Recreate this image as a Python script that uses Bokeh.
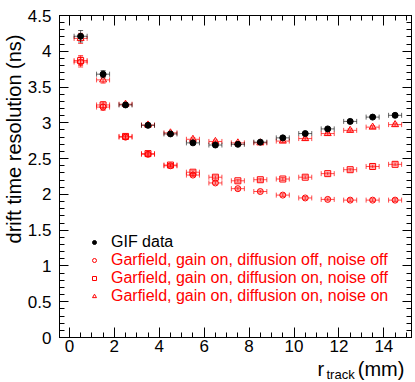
import math
import numpy as np
from bokeh.plotting import figure
from bokeh.models import (Range1d, LinearAxis, SingleIntervalTicker, ColumnDataSource,
                          Legend, LegendItem, Label, Title, CustomJSTickFormatter)
from bokeh.embed import file_html
from bokeh.resources import INLINE

# ---------------- data ----------------
r_track = [0.5, 1.5, 2.5, 3.5, 4.5, 5.5, 6.5, 7.5, 8.5, 9.5, 10.5, 11.5, 12.5, 13.5, 14.5]
r_err = [0.29, 0.29, 0.29, 0.29, 0.29, 0.29, 0.29, 0.29, 0.29, 0.29, 0.29, 0.29, 0.29, 0.29, 0.29]

gif_data = [4.21, 3.68, 3.25, 2.965, 2.845, 2.72, 2.69, 2.70, 2.73, 2.79, 2.85, 2.915, 3.02, 3.08, 3.105]
gif_err = [0.08, 0.05, 0.03, 0.03, 0.025, 0.025, 0.025, 0.02, 0.02, 0.02, 0.02, 0.02, 0.02, 0.02, 0.02]

garf_diff_off_noise_off = [3.85, 3.22, 2.80, 2.56, 2.40, 2.27, 2.16, 2.08, 2.04, 1.99, 1.95, 1.93, 1.92, 1.92, 1.92]
garf_diff_on_noise_off = [3.87, 3.25, 2.81, 2.57, 2.41, 2.31, 2.24, 2.19, 2.205, 2.215, 2.24, 2.29, 2.345, 2.39, 2.42]
garf_diff_on_noise_on = [4.18, 3.60, 3.26, 2.97, 2.86, 2.77, 2.74, 2.72, 2.72, 2.745, 2.78, 2.85, 2.895, 2.94, 2.975]
garf_err = [0.07, 0.045, 0.025, 0.025, 0.02, 0.02, 0.02, 0.02, 0.02, 0.02, 0.02, 0.02, 0.02, 0.02, 0.02]

legend_labels = ["GIF data",
                 "Garfield, gain on, diffusion off, noise off",
                 "Garfield, gain on, diffusion on, noise off",
                 "Garfield, gain on, diffusion on, noise on"]

y_title = "drift time resolution (ns)"
x_title_main = "r\u2009\u2009\u2009\u2009\u2009\u2009\u2009 (mm)"
x_title_sub = "track"

FONT = "Liberation Sans"
RED = "#ff0000"

# ---------------- figure ----------------
W, H = 415, 382
ML, MR, MT, MB = 58, 4, 15, 45
p = figure(width=W, height=H, output_backend="svg", toolbar_location=None,
           x_range=Range1d(-0.44, 15.23), y_range=Range1d(0, 4.5),
           min_border_left=ML, min_border_right=MR, min_border_top=MT, min_border_bottom=MB)
p.grid.visible = False
p.outline_line_color = "black"
p.outline_line_width = 1


def style_axis(ax, interval, nminor, major_in, minor_in, labels=True, standoff=4):
    ax.ticker = SingleIntervalTicker(interval=interval, num_minor_ticks=nminor)
    ax.axis_line_color = "black"
    ax.major_tick_line_color = "black"
    ax.minor_tick_line_color = "black"
    ax.major_tick_in = major_in
    ax.major_tick_out = 0
    ax.minor_tick_in = minor_in
    ax.minor_tick_out = 0
    ax.major_label_text_font = FONT
    ax.major_label_text_color = "black"
    ax.major_label_text_font_size = "17px"
    if labels:
        ax.major_label_standoff = standoff
    else:
        ax.formatter = CustomJSTickFormatter(code="return ''")
        ax.major_label_standoff = 0


style_axis(p.xaxis[0], 2, 4, 10, 5, True, 2)
style_axis(p.yaxis[0], 0.5, 5, 9, 5, True, 8)
top_ax = LinearAxis()
style_axis(top_ax, 2, 4, 10, 5, False)
right_ax = LinearAxis()
style_axis(right_ax, 0.5, 5, 9, 5, False)
p.add_layout(top_ax, "above")
p.add_layout(right_ax, "right")

# ---------------- error bars + markers ----------------
def add_series(yvals, yerr, color, marker, size, filled, bar_alpha):
    x = np.array(r_track)
    y = np.array(yvals)
    ye = np.array(yerr)
    xe = np.array(r_err)
    src = ColumnDataSource(dict(x=x, y=y, ylo=y - ye, yhi=y + ye, xlo=x - xe, xhi=x + xe))
    kw = dict(source=src, line_color=color, line_width=1, line_alpha=bar_alpha)
    p.segment(x0="x", y0="ylo", x1="x", y1="yhi", **kw)
    p.segment(x0="xlo", y0="y", x1="xhi", y1="y", **kw)
    p.scatter("x", "ylo", marker="dash", size=5, **kw)
    p.scatter("x", "yhi", marker="dash", size=5, **kw)
    p.scatter("xlo", "y", marker="dash", angle=math.pi / 2, size=5, **kw)
    p.scatter("xhi", "y", marker="dash", angle=math.pi / 2, size=5, **kw)
    p.scatter("x", "y", source=src, marker=marker, size=size,
              line_color=color, line_width=1,
              fill_color=color if filled else None)


add_series(garf_diff_off_noise_off, garf_err, RED, "circle", 6, False, 0.7)
add_series(garf_diff_on_noise_off, garf_err, RED, "square", 6, False, 0.7)
add_series(garf_diff_on_noise_on, garf_err, RED, "triangle", 7, False, 0.7)
add_series(gif_data, gif_err, "black", "circle", 6, True, 0.6)

# ---------------- legend (small markers like the reference) ----------------
nan = [float("nan")]
lg_gif = p.scatter(x=nan, y=nan, marker="circle", size=4, line_color="black", fill_color="black")
lg_c = p.scatter(x=nan, y=nan, marker="circle", size=5, line_color=RED, fill_color=None)
lg_s = p.scatter(x=nan, y=nan, marker="square", size=5, line_color=RED, fill_color=None)
lg_t = p.scatter(x=nan, y=nan, marker="triangle", size=5, line_color=RED, fill_color=None)

common = dict(orientation="vertical", padding=0, margin=0, spacing=0,
              glyph_width=10, glyph_height=18, label_height=18, label_standoff=12,
              label_text_font=FONT, label_text_font_size="16px",
              border_line_color=None, background_fill_alpha=0)
leg1 = Legend(items=[LegendItem(label=legend_labels[0], renderers=[lg_gif], index=0)],
              location=(30, 86), label_text_color="black", **common)
leg2 = Legend(items=[LegendItem(label=legend_labels[1], renderers=[lg_c], index=0),
                     LegendItem(label=legend_labels[2], renderers=[lg_s], index=0),
                     LegendItem(label=legend_labels[3], renderers=[lg_t], index=0)],
              location=(30, 32), label_text_color=RED, **common)
p.add_layout(leg1)
p.add_layout(leg2)

# ---------------- axis titles (ROOT style: aligned to the axis end) ----------------
p.add_layout(Title(text=y_title, align="right", standoff=0, offset=19,
                   text_font=FONT, text_font_size="20px", text_font_style="normal",
                   text_color="black"), "left")
# main part of x title, in its own bottom panel (screen units relative to that panel)
p.add_layout(Label(x=258, y=8, x_units="screen", y_units="screen", text=x_title_main,
                   text_align="left", text_baseline="alphabetic",
                   text_font=FONT, text_font_size="20px", text_color="black"), "below")
# subscript, in the (otherwise empty) top panel, shifted down to the bottom of the canvas
p.add_layout(Label(x=267, y=-359, x_units="screen", y_units="screen", text=x_title_sub,
                   text_align="left", text_baseline="alphabetic",
                   text_font=FONT, text_font_size="13px", text_color="black"), "above")

open("out.html", "w").write(file_html(p, INLINE))
